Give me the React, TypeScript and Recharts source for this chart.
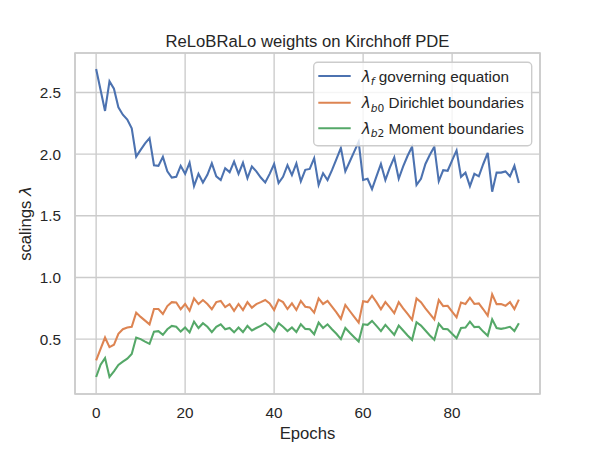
import React from 'react';
import { LineChart, Line, XAxis, YAxis, CartesianGrid, ReferenceArea } from 'recharts';

const epochs: number[] = Array.from({ length: 96 }, (_, i) => i);

const lambdaF: number[] = [
  2.69, 2.52, 2.35, 2.59, 2.53, 2.38, 2.32, 2.28, 2.21, 1.98,
  2.035, 2.087, 2.13, 1.91, 1.905, 1.978, 1.86, 1.81, 1.816, 1.905,
  1.84, 1.93, 1.74, 1.84, 1.77, 1.832, 1.925, 1.82, 1.79, 1.886,
  1.854, 1.94, 1.84, 1.93, 1.805, 1.9, 1.86, 1.81, 1.77, 1.84,
  1.92, 1.765, 1.816, 1.91, 1.83, 1.925, 1.78, 1.873, 1.88, 1.967,
  1.75, 1.845, 1.79, 1.87, 1.96, 2.05, 1.86, 1.94, 2.02, 2.1,
  1.79, 1.8, 1.716, 1.82, 1.92, 1.79, 1.89, 1.973, 1.8, 1.9,
  1.987, 2.06, 1.75, 1.8, 1.92, 1.995, 2.06, 1.78, 1.87, 1.865,
  1.95, 2.03, 1.816, 1.85, 1.74, 1.84, 1.82, 1.92, 2.01, 1.695,
  1.85, 1.85, 1.86, 1.82, 1.905, 1.765,
];

const lambdaB0: number[] = [
  0.327, 0.42, 0.513, 0.435, 0.454, 0.543, 0.58, 0.594, 0.6, 0.715,
  0.68, 0.65, 0.62, 0.744, 0.744, 0.704, 0.768, 0.8, 0.797, 0.742,
  0.785, 0.73, 0.83, 0.784, 0.817, 0.785, 0.742, 0.8, 0.81, 0.76,
  0.784, 0.73, 0.785, 0.736, 0.8, 0.755, 0.784, 0.8, 0.817, 0.79,
  0.736, 0.82, 0.8, 0.744, 0.79, 0.736, 0.81, 0.763, 0.757, 0.715,
  0.83, 0.785, 0.81, 0.763, 0.717, 0.664, 0.777, 0.728, 0.68, 0.634,
  0.807, 0.8, 0.852, 0.8, 0.742, 0.8, 0.757, 0.71, 0.8, 0.75,
  0.704, 0.656, 0.83, 0.8, 0.75, 0.704, 0.66, 0.817, 0.768, 0.77,
  0.723, 0.677, 0.797, 0.785, 0.836, 0.785, 0.79, 0.742, 0.69, 0.863,
  0.784, 0.784, 0.77, 0.8, 0.744, 0.82,
];

const lambdaB2: number[] = [
  0.193, 0.293, 0.346, 0.193, 0.239, 0.29, 0.317, 0.341, 0.38, 0.513,
  0.5, 0.48, 0.462, 0.561, 0.565, 0.535, 0.58, 0.607, 0.6, 0.561,
  0.594, 0.555, 0.642, 0.59, 0.629, 0.6, 0.557, 0.6, 0.62, 0.58,
  0.59, 0.555, 0.594, 0.557, 0.607, 0.57, 0.59, 0.607, 0.629, 0.6,
  0.561, 0.629, 0.6, 0.565, 0.594, 0.557, 0.62, 0.583, 0.58, 0.54,
  0.634, 0.59, 0.62, 0.58, 0.543, 0.5, 0.59, 0.551, 0.516, 0.48,
  0.62, 0.616, 0.648, 0.607, 0.565, 0.616, 0.575, 0.535, 0.61, 0.57,
  0.53, 0.494, 0.637, 0.61, 0.57, 0.53, 0.494, 0.626, 0.583, 0.58,
  0.543, 0.508, 0.59, 0.594, 0.642, 0.597, 0.6, 0.561, 0.527, 0.66,
  0.59, 0.583, 0.59, 0.6, 0.565, 0.629,
];

const xTicks: number[] = [0, 20, 40, 60, 80];
const yTicks: number[] = [0.5, 1.0, 1.5, 2.0, 2.5];

const seriesKeys = ['f', 'b0', 'b2'];
const seriesSubs = ['f', 'b0', 'b2'];
const seriesLabels = ['governing equation', 'Dirichlet boundaries', 'Moment boundaries'];
const seriesColors = ['#4C72B0', '#DD8452', '#55A868'];

const titleText = 'ReLoBRaLo weights on Kirchhoff PDE';
const xLabelText = 'Epochs';
const yLabelText = 'scalings ';

const data = epochs.map((e, i) => ({ epoch: e, f: lambdaF[i], b0: lambdaB0[i], b2: lambdaB2[i] }));

const FONT = '"Liberation Sans", Arial, sans-serif';
const MATH = '"DejaVu Sans", sans-serif';
const TXT = '#262626';
const GRID = '#cccccc';

function Sub({ s }: { s: string }) {
  const letters = s.replace(/[0-9]/g, '');
  const digits = s.replace(/[^0-9]/g, '');
  return (
    <>
      <tspan fontFamily={MATH} fontStyle="italic">λ</tspan>
      <tspan fontFamily={MATH} fontStyle="italic" fontSize={10.7} dy={3.5}>{letters}</tspan>
      {digits ? <tspan fontFamily={MATH} fontSize={10.7}>{digits}</tspan> : null}
    </>
  );
}

export default function App() {
  const rowY = [76, 102.7, 128.3];
  return (
    <div style={{ position: 'absolute', left: 0, top: 0, width: 600, height: 450, background: '#fff' }}>
      <LineChart width={600} height={450} data={data} margin={{ top: 53, right: 60, left: 15, bottom: 26 }}>
        <CartesianGrid stroke={GRID} strokeWidth={1.39} />
        <XAxis
          dataKey="epoch"
          type="number"
          domain={[-4.75, 99.75]}
          ticks={xTicks}
          allowDataOverflow
          axisLine={false}
          tickLine={false}
          tickSize={0}
          tickMargin={13}
          height={30}
          tick={{ fontSize: 15.3, fill: TXT, fontFamily: FONT }}
        />
        <YAxis
          type="number"
          domain={[0.055, 2.82]}
          ticks={yTicks}
          allowDataOverflow
          axisLine={false}
          tickLine={false}
          tickSize={0}
          tickMargin={14}
          width={60}
          tickFormatter={(v: number) => v.toFixed(1)}
          tick={{ fontSize: 15.3, fill: TXT, fontFamily: FONT }}
        />
        {seriesKeys.map((k, i) => (
          <Line
            key={k}
            type="linear"
            dataKey={k}
            stroke={seriesColors[i]}
            strokeWidth={2.08}
            dot={false}
            activeDot={false}
            isAnimationActive={false}
          />
        ))}
        <ReferenceArea
          x1={-4.75}
          x2={99.75}
          y1={0.055}
          y2={2.82}
          fill="none"
          fillOpacity={0}
          stroke={GRID}
          strokeWidth={1.74}
          ifOverflow="visible"
        />
      </LineChart>
      <svg width={600} height={450} style={{ position: 'absolute', left: 0, top: 0, pointerEvents: 'none' }}>
        <text x={307.5} y={47} textAnchor="middle" fontSize={16.67} fill={TXT} fontFamily={FONT}>{titleText}</text>
        <text x={307.5} y={439} textAnchor="middle" fontSize={16.67} fill={TXT} fontFamily={FONT}>{xLabelText}</text>
        <text x={0} y={0} transform="translate(31,223.5) rotate(-90)" textAnchor="middle" fontSize={16.67} fill={TXT} fontFamily={FONT}>
          {yLabelText}<tspan fontFamily={MATH} fontStyle="italic">λ</tspan>
        </text>
        <rect x={313.7} y={62.3} width={218} height={83.4} rx={4} ry={4} fill="#ffffff" fillOpacity={0.8} stroke={GRID} strokeWidth={1.39} />
        {seriesKeys.map((k, i) => (
          <g key={k}>
            <line x1={318.3} x2={350.7} y1={rowY[i]} y2={rowY[i]} stroke={seriesColors[i]} strokeWidth={2.08} />
            <text x={361.7} y={rowY[i] + 5.5} fontSize={15.3} fill={TXT} fontFamily={FONT}>
              <Sub s={seriesSubs[i]} />
              <tspan dy={-3.5}>{' ' + seriesLabels[i]}</tspan>
            </text>
          </g>
        ))}
      </svg>
    </div>
  );
}
